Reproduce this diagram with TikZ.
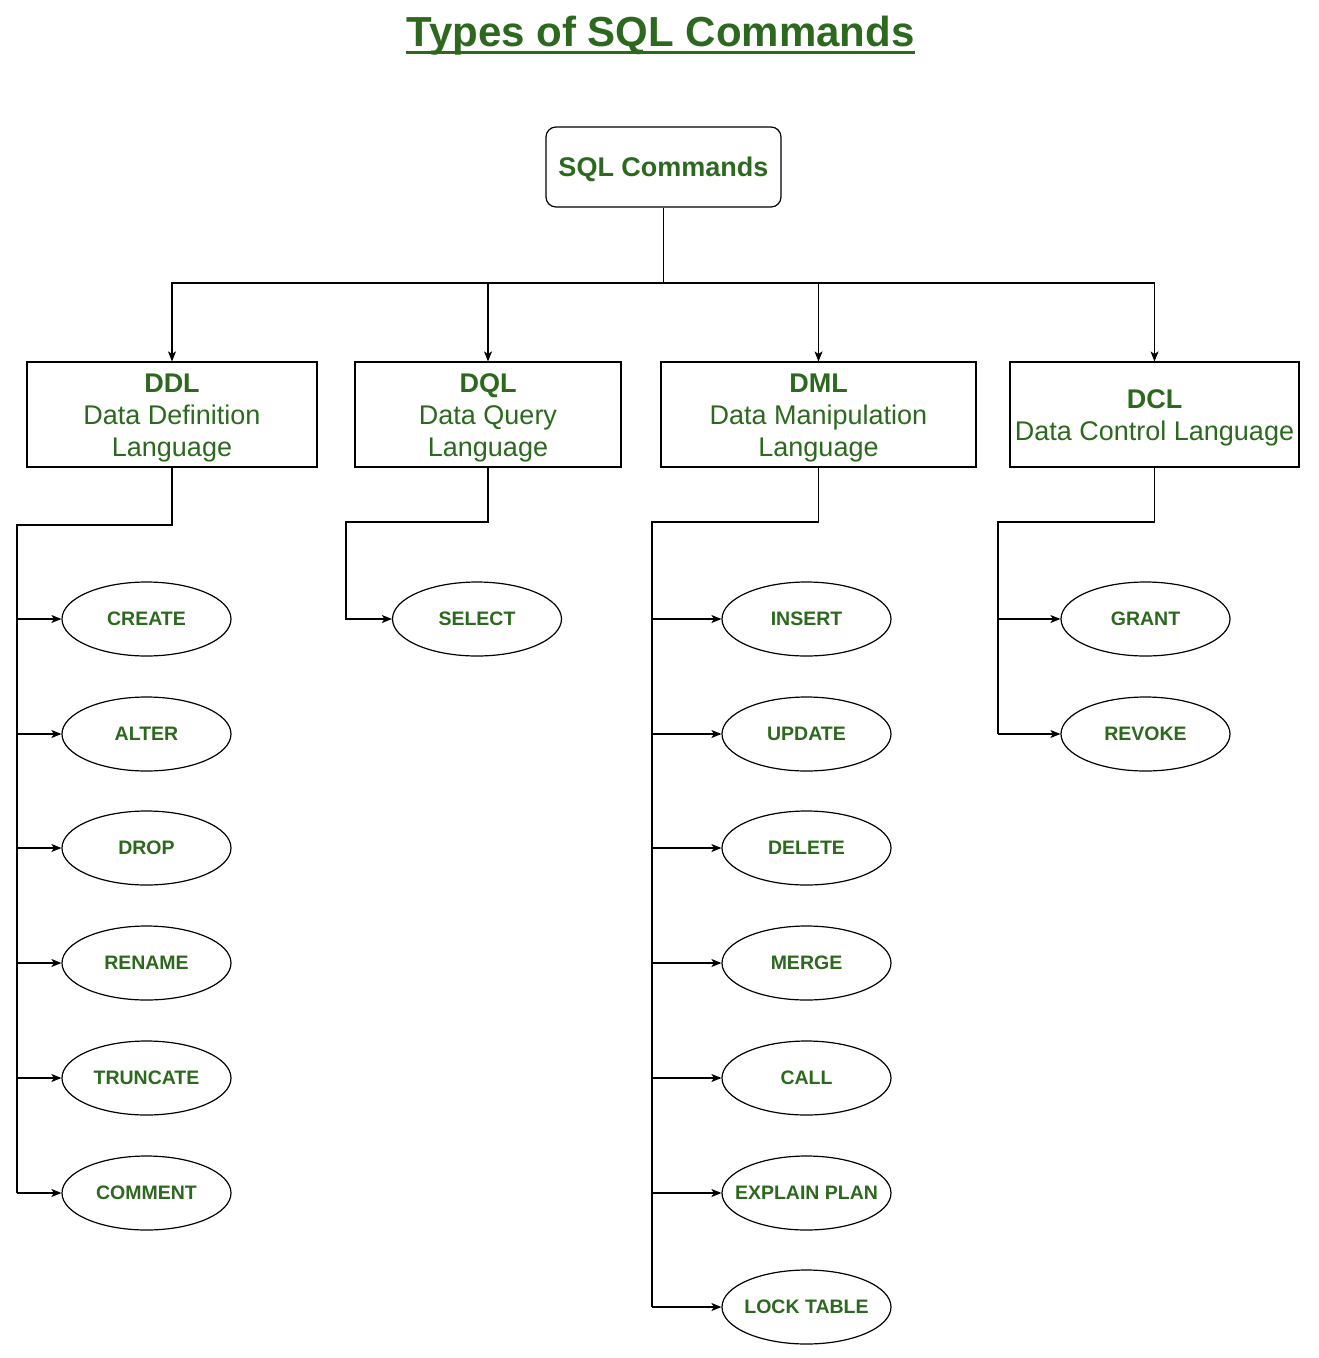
\documentclass[tikz,border=0pt]{standalone}
\usepackage{fontspec}
\setmainfont{Liberation Sans}
\usetikzlibrary{shapes.geometric,arrows.meta}
\definecolor{sqlgreen}{RGB}{44,105,30}
\newcommand{\toplift}{\rule{0pt}{26pt}}
\begin{document}
\begin{tikzpicture}[x=1pt,y=-1pt,
  catbox/.style={draw=black, line width=1.2pt, minimum width=#1, minimum height=105, inner sep=0pt, align=center, text=sqlgreen, font=\fontsize{27}{32}\selectfont},
  cmd/.style={ellipse, draw=black, line width=1.2pt, minimum width=169, minimum height=74, inner sep=0pt, text=sqlgreen, font=\bfseries\fontsize{19.5}{22}\selectfont},
  link/.style={line width=1.2pt, draw=black},
  arr/.style={link, -{Stealth[length=10pt,width=8pt,inset=2.5pt]}}]
\useasboundingbox (0,0) rectangle (1318,1358);
\fill[white] (0,0) rectangle (1318,1358);
% title
\node[font=\bfseries\fontsize{42}{48}\selectfont, text=sqlgreen, inner sep=0pt, anchor=base] (title) at (660.5,46) {Types of SQL Commands};
\draw[sqlgreen, line width=3pt] ([yshift=-6pt]title.base west) -- ([yshift=-6pt]title.base east);
% root
\node[draw=black, rounded corners=10pt, line width=1.2pt, minimum width=235, minimum height=80, inner sep=0pt, text=sqlgreen, font=\bfseries\fontsize{27}{32}\selectfont] (root) at (663.5,167) {\rule{0pt}{24pt}SQL Commands};
% categories
\node[catbox=290] (ddl) at (172,414.5) {\toplift{\bfseries DDL}\\Data Definition\\Language};
\node[catbox=266] (dql) at (488,414.5) {\toplift{\bfseries DQL}\\Data Query\\Language};
\node[catbox=315] (dml) at (818.5,414.5) {\toplift{\bfseries DML}\\Data Manipulation\\Language};
\node[catbox=289] (dcl) at (1154.5,414.5) {\toplift{\bfseries DCL}\\Data Control Language};
% bus
\coordinate (bus) at (662,283);
\draw[link] (root.south) -- (root.south |- bus);
\foreach \c in {ddl,dql,dml,dcl} \draw[arr] (root.south |- bus) -| (\c.north);
% DDL commands
\foreach \n/\t/\y in {create/CREATE/619, alter/ALTER/734, drop/DROP/848, rename/RENAME/963, truncate/TRUNCATE/1078, comment/COMMENT/1193}
  \node[cmd] (\n) at (146.5,\y) {\makebox[0pt][c]{\t}};
\coordinate (ddlk) at (17,525);
\draw[link] (ddl.south) |- (ddlk) -- (ddlk |- comment.west);
\foreach \n in {create,alter,drop,rename,truncate,comment} \draw[arr] (ddlk |- \n.west) -- (\n.west);
% DQL
\node[cmd] (select) at (477,619) {\makebox[0pt][c]{SELECT}};
\coordinate (dqlk) at (346,522);
\draw[arr] (dql.south) |- (dqlk) |- (select.west);
% DML
\foreach \n/\t/\y in {insert/INSERT/619, update/UPDATE/734, delete/DELETE/848, merge/MERGE/963, call/CALL/1078, explain/EXPLAIN PLAN/1193, lock/LOCK TABLE/1307}
  \node[cmd] (\n) at (806.5,\y) {\makebox[0pt][c]{\t}};
\coordinate (dmlk) at (652,522);
\draw[link] (dml.south) |- (dmlk) -- (dmlk |- lock.west);
\foreach \n in {insert,update,delete,merge,call,explain,lock} \draw[arr] (dmlk |- \n.west) -- (\n.west);
% DCL
\node[cmd] (grant) at (1145.5,619) {\makebox[0pt][c]{GRANT}};
\node[cmd] (revoke) at (1145.5,734) {\makebox[0pt][c]{REVOKE}};
\coordinate (dclk) at (998,522);
\draw[link] (dcl.south) |- (dclk) -- (dclk |- revoke.west);
\foreach \n in {grant,revoke} \draw[arr] (dclk |- \n.west) -- (\n.west);
\end{tikzpicture}
\end{document}
